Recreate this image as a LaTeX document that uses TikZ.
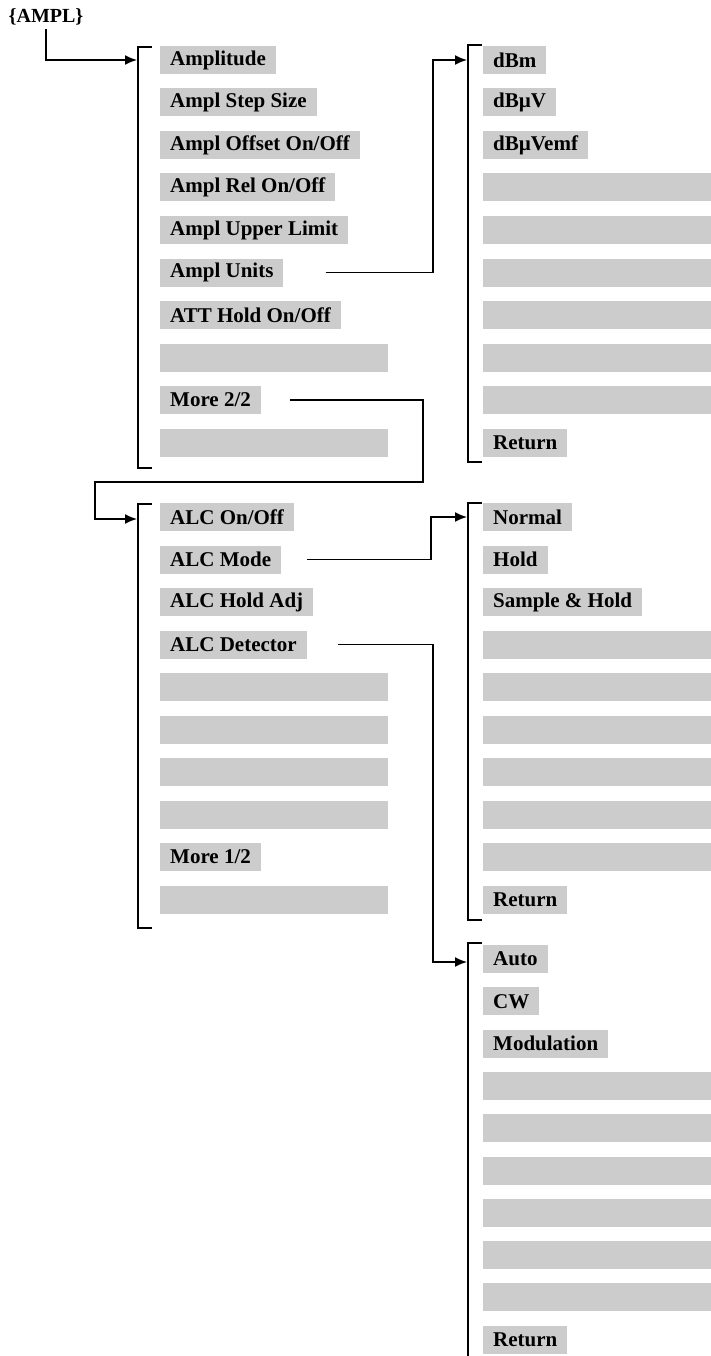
\documentclass[tikz,border=0pt]{standalone}
\usepackage{fontspec}
\setmainfont{Liberation Serif}
\usetikzlibrary{positioning,arrows.meta}

\tikzset{
  softkey/.style={fill=black!20, minimum height=28pt, inner xsep=10pt, inner ysep=0pt,
    anchor=west, font=\bfseries\fontsize{21}{25}\selectfont},
  blankkey/.style={softkey, minimum width=#1},
  blankkey/.default=228pt,
  wire/.style={line width=1.6pt, -{Latex[length=12pt,width=10pt]}},
  bracket/.style={line width=1.7pt},
}

\begin{document}
\begin{tikzpicture}[x=1pt,y=-1pt]
  \useasboundingbox (0,0) rectangle (710,1356);
  \node[font=\bfseries\fontsize{20}{24}\selectfont] (ampl) at (46,17) {\{AMPL\}};

  % amplitude menu, page 1
  \foreach \t [count=\i from 0] in {Amplitude,Ampl Step Size,Ampl Offset On/Off,Ampl Rel On/Off,Ampl Upper Limit,Ampl Units,ATT Hold On/Off}
    \node[softkey] (A\i) at (160,{60+42.5*\i}) {\t};
  \foreach \i in {7,9}
    \node[blankkey] (A\i) at (160,{60+42.5*\i}) {};
  \node[softkey] (A8) at (160,{60+42.5*8}) {More 2/2};
  \draw[bracket] (152,47) -| (138,468) -- (152,468);
  \coordinate (A-in) at (137,60);

  % units
  \foreach \t [count=\i from 0] in {dBm,dBµV,dBµVemf}
    \node[softkey] (B\i) at (483,{60+42.5*\i}) {\t};
  \foreach \i in {3,...,8}
    \node[blankkey=240pt] (B\i) at (483,{60+42.5*\i}) {};
  \node[softkey] (B9) at (483,{60+42.5*9}) {Return};
  \draw[bracket] (482,45) -| (468,462) -- (482,462);
  \coordinate (B-in) at (467,60);
  \coordinate (B-up) at (433,60);

  % amplitude menu, page 2
  \foreach \t [count=\i from 0] in {ALC On/Off,ALC Mode,ALC Hold Adj,ALC Detector}
    \node[softkey] (C\i) at (160,{517+42.5*\i}) {\t};
  \foreach \i in {4,5,6,7,9}
    \node[blankkey] (C\i) at (160,{517+42.5*\i}) {};
  \node[softkey] (C8) at (160,{517+42.5*8}) {More 1/2};
  \draw[bracket] (152,504) -| (138,928) -- (152,928);
  \coordinate (C-in) at (137,519);
  \coordinate (C-drop) at (423,482);
  \coordinate (C-back) at (95,519);

  % alc mode
  \foreach \t [count=\i from 0] in {Normal,Hold,Sample \& Hold}
    \node[softkey] (D\i) at (483,{517+42.5*\i}) {\t};
  \foreach \i in {3,...,8}
    \node[blankkey=240pt] (D\i) at (483,{517+42.5*\i}) {};
  \node[softkey] (D9) at (483,{517+42.5*9}) {Return};
  \draw[bracket] (482,503) -| (468,920) -- (482,920);
  \coordinate (D-in) at (467,517);
  \coordinate (D-up) at (431,517);

  % alc detector
  \foreach \t [count=\i from 0] in {Auto,CW,Modulation}
    \node[softkey] (E\i) at (483,{959+42.3*\i}) {\t};
  \foreach \i in {3,...,8}
    \node[blankkey=240pt] (E\i) at (483,{959+42.3*\i}) {};
  \node[softkey] (E9) at (483,{959+42.3*9}) {Return};
  \draw[bracket] (482,943) -| (468,1362);
  \coordinate (E-in) at (467,962);
  \coordinate (E-down) at (433,962);

  % links
  \draw[wire] (ampl.south) |- (A-in);
  \draw[wire] ([xshift=42pt]A5.east) -| (B-up) -- (B-in);
  \draw[wire] ([xshift=29pt]A8.east) -| (C-drop) -| (C-back) -- (C-in);
  \draw[wire] ([xshift=26pt]C1.east) -| (D-up) -- (D-in);
  \draw[wire] ([xshift=31pt]C3.east) -| (E-down) -- (E-in);
\end{tikzpicture}
\end{document}
